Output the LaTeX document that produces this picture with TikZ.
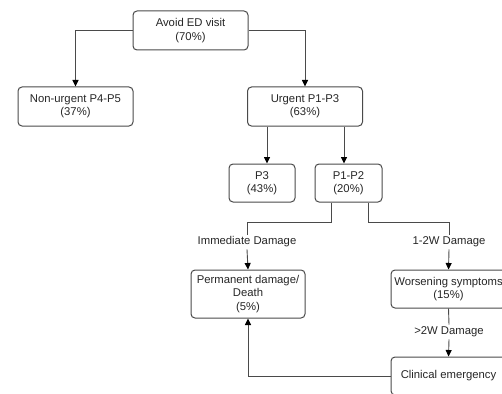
\documentclass[tikz,border=0pt]{standalone}
\usepackage{fontspec}
\setmainfont{Liberation Sans}
\usetikzlibrary{arrows.meta}
\definecolor{ln}{HTML}{4A4A4A}
\definecolor{tx}{HTML}{262626}
\begin{document}
\begin{tikzpicture}[x=1pt,y=-1pt,
  box/.style={draw=ln,line width=1pt,rounded corners=4pt,align=center,text=tx,
    font=\fontsize{11.3}{13.2}\selectfont,inner sep=0pt},
  lbl/.style={text=tx,font=\fontsize{11.3}{13.2}\selectfont,inner sep=2pt},
  conn/.style={draw=ln,line width=0.9pt},
  arr/.style={conn,-{Triangle[length=6.5pt,width=6pt,fill=black,color=black]}}]
\useasboundingbox (0,0) rectangle (502,393);
\clip (0,0) rectangle (502,393);
\fill[white] (0,0) rectangle (502,393);
\node[box,minimum width=115,minimum height=39] (avoid) at (190.5,30.5) {Avoid ED visit\\(70\%)};
\node[box,minimum width=115,minimum height=39] (nonurg) at (75.5,106.5) {Non-urgent P4-P5\\(37\%)};
\node[box,minimum width=115,minimum height=39] (urgent) at (305,106.5) {Urgent P1-P3\\(63\%)};
\node[box,minimum width=66,minimum height=38] (p3) at (262,183) {P3\\(43\%)};
\node[box,minimum width=67,minimum height=38] (p12) at (348.5,183) {P1-P2\\(20\%)};
\node[box,minimum width=114,minimum height=48] (perm) at (248,294) {Permanent damage/\\Death\\(5\%)};
\node[box,minimum width=115,minimum height=38] (worse) at (448.5,289) {Worsening symptoms\\(15\%)};
\node[box,minimum width=115,minimum height=38] (clin) at (448.5,376) {Clinical emergency};
\node[lbl] (imm) at (247,242) {Immediate Damage};
\node[lbl] (d12) at (449,242) {1-2W Damage};
\node[lbl] (gt2) at (449,332) {>2W Damage};
\draw[arr] (avoid.west) -| (nonurg.north);
\draw[arr] (avoid.east) -| (urgent.north);
\draw[arr] ([xshift=5pt]p3.north |- urgent.south) -- ([xshift=5pt]p3.north);
\draw[arr] ([xshift=-4.5pt]p12.north |- urgent.south) -- ([xshift=-4.5pt]p12.north);
\draw[conn] ([xshift=-17.5pt]p12.south) -- ++(0,20) -| (imm.north);
\draw[conn] ([xshift=19.5pt]p12.south) -- ++(0,20) -| (d12.north);
\draw[arr] (imm.south) -- (perm.north);
\draw[arr] (d12.south) -- (worse.north);
\draw[conn] (worse.south) -- (gt2.north);
\draw[arr] (gt2.south) -- (clin.north);
\draw[arr] (clin.west) -| (perm.south);
\end{tikzpicture}
\end{document}
